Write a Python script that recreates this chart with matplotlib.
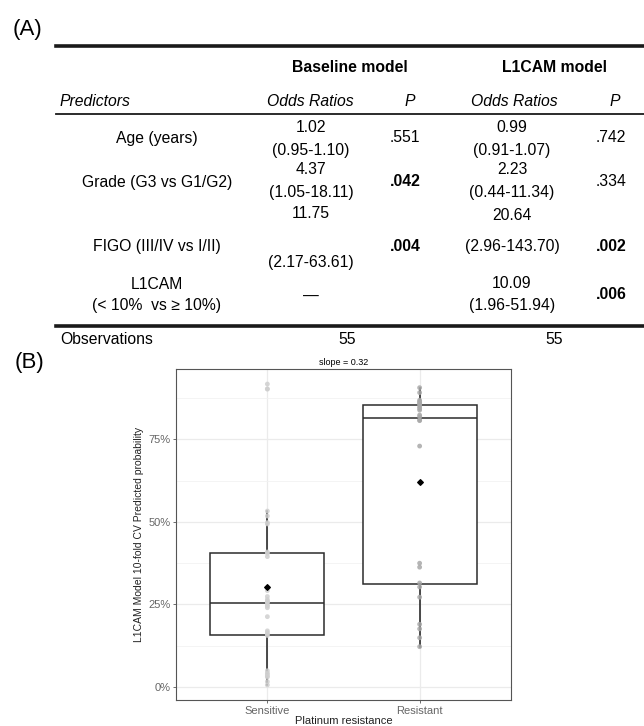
import numpy as np
import matplotlib
matplotlib.use("Agg")
import matplotlib.pyplot as plt
from matplotlib.lines import Line2D

plt.rcParams['font.family'] = ['Liberation Sans', 'DejaVu Sans']

# ---- table (A) ----
predictors = ["Age (years)", "Grade (G3 vs G1/G2)", "FIGO (III/IV vs I/II)", "L1CAM\n(< 10%  vs \u2265 10%)"]
base_or = ["1.02", "4.37", "11.75", "\u2014"]
base_ci = ["(0.95-1.10)", "(1.05-18.11)", "(2.17-63.61)", ""]
base_p = [0.551, 0.042, 0.004, None]
l1cam_or = ["0.99", "2.23", "20.64", "10.09"]
l1cam_ci = ["(0.91-1.07)", "(0.44-11.34)", "(2.96-143.70)", "(1.96-51.94)"]
l1cam_p = [0.742, 0.334, 0.002, 0.006]
observations = [55, 55]

# ---- panel (B): predicted probabilities (%) ----
groups = ["Sensitive", "Resistant"]
sensitive = [0.6, 1.6, 3.0, 3.3, 3.8, 4.2, 4.9, 15.6, 16.0, 16.5, 17.0, 21.3, 24.0, 24.5,
             24.8, 25.5, 25.8, 26.0, 26.5, 27.4, 29.2, 39.5, 40.5, 40.9, 49.4, 49.8,
             51.8, 53.3, 90.3, 90.3, 91.8]
resistant = [12.2, 14.9, 17.6, 19.0, 27.2, 30.3, 31.5, 36.3, 37.5, 73.0, 80.7, 80.9,
             81.9, 82.4, 83.9, 84.4, 84.9, 85.5, 85.8, 86.2, 86.5, 86.9, 89.2, 90.7]
slope_text = "slope = 0.32"

W, H = 644, 726
fig = plt.figure(figsize=(W / 100, H / 100), dpi=100)


def fx(px):
    return px / W


def fy(py):
    return 1 - py / H


def hline(y, x0, x1, lw):
    fig.add_artist(Line2D([fx(x0), fx(x1)], [fy(y), fy(y)], color='#1a1a1a', lw=lw,
                          transform=fig.transFigure))


def pfmt(p):
    return ("%.3f" % p)[1:]


fs = 11.3
fig.text(fx(13), fy(29), "(A)", fontsize=16, va='center', ha='left')
hline(46, 56, 644, 2.6)
fig.text(fx(350), fy(68), "Baseline model", fontsize=fs, weight='bold', ha='center', va='center')
fig.text(fx(554), fy(68), "L1CAM model", fontsize=fs, weight='bold', ha='center', va='center')
fig.text(fx(60), fy(102), "Predictors", fontsize=fs, style='italic', ha='left', va='center')
for xc, lab in [(310, "Odds Ratios"), (410, "P"), (514, "Odds Ratios"), (615, "P")]:
    fig.text(fx(xc), fy(102), lab, fontsize=fs, style='italic', ha='center', va='center')
hline(114, 56, 644, 1.3)

row_mid = [138, 182, 247, 295]
base_y = [(127, 150), (170, 193), (213, 262), (296, None)]
l1cam_y = [(127, 150), (170, 193), (216, 247), (284, 306)]
for i, name in enumerate(predictors):
    fig.text(fx(157), fy(row_mid[i]), name, fontsize=fs, ha='center', va='center',
             linespacing=1.5)
    y1, y2 = base_y[i]
    fig.text(fx(311), fy(y1), base_or[i], fontsize=fs, ha='center', va='center')
    if y2 is not None:
        fig.text(fx(311), fy(y2), base_ci[i], fontsize=fs, ha='center', va='center')
    if base_p[i] is not None:
        fig.text(fx(405), fy(row_mid[i]), pfmt(base_p[i]), fontsize=fs, ha='center', va='center',
                 weight='bold' if base_p[i] < 0.05 else 'normal')
    y1, y2 = l1cam_y[i]
    fig.text(fx(512), fy(y1), l1cam_or[i], fontsize=fs, ha='center', va='center')
    fig.text(fx(512), fy(y2), l1cam_ci[i], fontsize=fs, ha='center', va='center')
    fig.text(fx(611), fy(row_mid[i]), pfmt(l1cam_p[i]), fontsize=fs, ha='center', va='center',
             weight='bold' if l1cam_p[i] < 0.05 else 'normal')

hline(326, 56, 644, 2.6)
fig.text(fx(60), fy(339), "Observations", fontsize=fs, ha='left', va='center')
fig.text(fx(347), fy(339), str(observations[0]), fontsize=fs, ha='center', va='center')
fig.text(fx(554), fy(339), str(observations[1]), fontsize=fs, ha='center', va='center')

fig.text(fx(15), fy(362), "(B)", fontsize=16, va='center', ha='left')

# ---- boxplot ----
ax = fig.add_axes([fx(176), fy(700), fx(511) - fx(176), (700 - 369) / H])
data = [np.array(sensitive) / 100, np.array(resistant) / 100]
pos = [1, 2]

ax.set_axisbelow(True)
ax.grid(True, which='major', color='#ebebeb', lw=0.9)
ax.set_yticks([0.125, 0.375, 0.625, 0.875], minor=True)
ax.grid(True, which='minor', axis='y', color='#f2f2f2', lw=0.6)

ax.boxplot(data, positions=pos, widths=0.75, whis=1.5, patch_artist=True, showfliers=False,
           boxprops=dict(facecolor='white', edgecolor='#2b2b2b', lw=1.1),
           medianprops=dict(color='#2b2b2b', lw=1.1),
           whiskerprops=dict(color='#1a1a1a', lw=1.1),
           capprops=dict(lw=0), zorder=2)

point_colors = ['#cfcfcf', '#a8a8a8']
for p, d, c in zip(pos, data, point_colors):
    ax.scatter(np.full(len(d), p), d, s=12, color=c, alpha=0.85, edgecolors='none', zorder=3)
for p, d in zip(pos, data):
    ax.scatter([p], [d.mean()], marker='D', s=8, color='black', zorder=4)

allv = np.concatenate(data)
rng = allv.max() - allv.min()
ax.set_ylim(allv.min() - 0.05 * rng, allv.max() + 0.05 * rng)
ax.set_xlim(0.4, 2.6)
ax.set_xticks(pos)
ax.set_xticklabels(groups)
ax.set_yticks([0, 0.25, 0.5, 0.75])
ax.set_yticklabels(["0%", "25%", "50%", "75%"])
ax.tick_params(axis='both', which='major', length=2.5, width=0.6, color='#555555',
               labelcolor='#666666', labelsize=8, pad=1.5)
ax.tick_params(axis='y', which='minor', length=0)
for s in ax.spines.values():
    s.set_color('#555555')
    s.set_linewidth(0.8)
ax.set_xlabel("Platinum resistance", fontsize=8, labelpad=0, color='#222222')
ax.set_ylabel("L1CAM Model 10-fold CV Predicted probability", fontsize=7.5, labelpad=3,
              color='#222222')
ax.set_title(slope_text, fontsize=6.5, pad=3)

fig.savefig("out.png", dpi=100)
